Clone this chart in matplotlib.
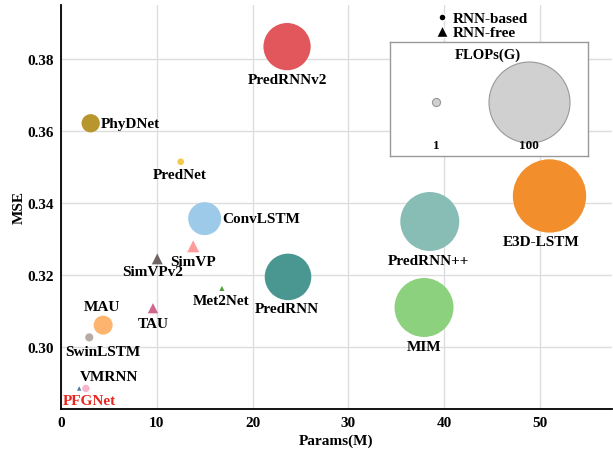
import matplotlib.pyplot as plt
from matplotlib.lines import Line2D

plt.rcParams['font.family'] = ['Liberation Serif', 'DejaVu Serif']
plt.rcParams['font.weight'] = 'bold'

# data
models = ["PredRNNv2", "PhyDNet", "PredNet", "ConvLSTM", "SimVP", "SimVPv2",
          "Met2Net", "PredRNN", "MAU", "TAU", "SwinLSTM", "VMRNN", "PFGNet",
          "PredRNN++", "MIM", "E3D-LSTM"]
params = [23.6, 3.1, 12.5, 15.0, 13.8, 10.05, 16.8, 23.7, 4.4, 9.6, 2.95,
          2.6, 1.9, 38.5, 37.9, 51.0]
mse = [0.3834, 0.3621, 0.3514, 0.3356, 0.3279, 0.3244, 0.3162, 0.3194,
       0.3060, 0.3107, 0.3026, 0.2884, 0.2884, 0.3348, 0.3109, 0.3419]
flops = [34, 5.1, 0.68, 16.6, 2.2, 1.8, 0.4, 33, 5.5, 1.6, 1.0, 0.82,
         0.3, 53, 53, 82]
rnn_based = [True, True, True, True, False, False, False, True, True, False,
             True, True, False, True, True, True]

colors = ["#e1575b", "#b8962e", "#f2c94c", "#9ecae9", "#ff9a9a", "#6e6464",
          "#4e9f3d", "#4a9690", "#fdb46f", "#d0658e", "#b8aaa5", "#f6b5cb",
          "#4a78b0", "#87bdb5", "#8cd17d", "#f28e2c"]

# label offsets in pixels (dx, dy) and horizontal alignment
label_pos = {
    "PredRNNv2": (0, -33, 'center'), "PhyDNet": (10, 0, 'left'),
    "PredNet": (-1, -13, 'center'), "ConvLSTM": (18, 0, 'left'),
    "SimVP": (0, -15, 'center'), "SimVPv2": (-5, -13, 'center'),
    "Met2Net": (-1, -12, 'center'), "PredRNN": (-1, -32, 'center'),
    "MAU": (-1, 19, 'center'), "TAU": (0, -15, 'center'),
    "SwinLSTM": (14, -14, 'center'), "VMRNN": (23, 12, 'center'),
    "PFGNet": (10, -12, 'center'), "PredRNN++": (-1, -39, 'center'),
    "MIM": (0, -39, 'center'), "E3D-LSTM": (-8, -46, 'center'),
}

SIZE_K = 34  # marker area (pt^2) per GFLOP
FS = 11

fig, ax = plt.subplots(figsize=(6.13, 4.52), dpi=100)
fig.subplots_adjust(left=0.0995, right=0.998, bottom=0.093, top=0.987)

for name, x, y, f, rnn, c in zip(models, params, mse, flops, rnn_based, colors):
    ax.scatter(x, y, s=f * SIZE_K, color=c, marker='o' if rnn else '^',
               edgecolors='none', zorder=3)
    dx, dy, ha = label_pos[name]
    ax.annotate(name, (x, y), xytext=(dx, dy), textcoords='offset pixels',
                ha=ha, va='center', fontsize=FS, fontweight='bold',
                color='#e8261f' if name == "PFGNet" else 'black', zorder=4)

ax.set_xlim(0, 57.5)
ax.set_ylim(0.2827, 0.395)
ax.set_xticks([0, 10, 20, 30, 40, 50])
ax.set_yticks([0.30, 0.32, 0.34, 0.36, 0.38])
ax.set_yticklabels(["0.30", "0.32", "0.34", "0.36", "0.38"])
ax.grid(True, color='#dddddd', linewidth=1.0, zorder=0)
ax.set_axisbelow(True)
ax.tick_params(length=0, labelsize=FS, pad=5)
for lab in ax.get_xticklabels() + ax.get_yticklabels():
    lab.set_fontweight('bold')
for side in ['top', 'right']:
    ax.spines[side].set_visible(False)
for side in ['left', 'bottom']:
    ax.spines[side].set_linewidth(1.3)
ax.set_xlabel("Params(M)", fontsize=FS, fontweight='bold', labelpad=3)
ax.set_ylabel("MSE", fontsize=FS, fontweight='bold', labelpad=1)

# marker type legend
handles = [Line2D([0], [0], marker='o', color='w', markerfacecolor='black',
                  markersize=5, label='RNN-based'),
           Line2D([0], [0], marker='^', color='w', markerfacecolor='black',
                  markersize=8, label='RNN-free')]
ax.legend(handles=handles, loc='center', bbox_to_anchor=(0.765, 0.949),
          frameon=False, handlelength=0.6, handletextpad=0.4,
          labelspacing=0.0, borderpad=0,
          prop={'weight': 'bold', 'size': FS})

# FLOPs size legend
ins = ax.inset_axes([0.597, 0.626, 0.359, 0.283])
ins.set_xlim(0, 1)
ins.set_ylim(0, 1)
ins.set_xticks([])
ins.set_yticks([])
for sp in ins.spines.values():
    sp.set_color('#999999')
    sp.set_linewidth(1.0)
ref_flops = [1, 100]
for xf, f in zip([0.236, 0.702], ref_flops):
    ins.scatter(xf, 0.475, s=f * SIZE_K, color='#d0d0d0',
                edgecolors='#999999', linewidths=0.8, clip_on=False)
    ins.text(xf, 0.04, str(f), ha='center', va='bottom', fontsize=9.5,
             fontweight='bold')
ins.text(0.496, 0.89, "FLOPs(G)", ha='center', va='center', fontsize=10.5,
         fontweight='bold')

fig.savefig("out.png", dpi=100)
